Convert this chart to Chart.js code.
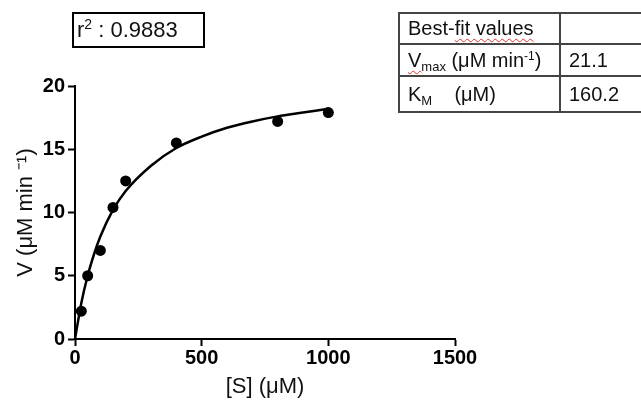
<!DOCTYPE html>
<html>
<head>
<meta charset="utf-8">
<script src="https://cdn.jsdelivr.net/npm/chart.js@4"></script>
<style>
  body { margin: 0; background: #fff; }
  #wrap { position: relative; width: 641px; height: 401px; overflow: hidden; font-family: "Liberation Sans", Arial, sans-serif; }
  #canvasGrafico { position: absolute; left: 0; top: 0; }
  #r2 { position: absolute; left: 72px; top: 12px; width: 133px; height: 36px; box-sizing: border-box;
        border: 2px solid #000; font-size: 22px; line-height: 32px; padding-left: 3px; color: #111; }
  #r2 sup { font-size: 14px; vertical-align: 8px; line-height: 0; }
  #tabla { position: absolute; left: 398px; top: 12px; width: 281px; table-layout: fixed;
           border-collapse: collapse; font-size: 20px; color: #111; }
  #tabla td { border: 2px solid #444; padding: 0 0 0 8px; white-space: nowrap; overflow: hidden; }
  #tabla sub { font-size: 13px; vertical-align: -4px; line-height: 0; }
  #tabla sup { font-size: 12px; vertical-align: 7px; line-height: 0; }
  .sq { text-decoration: underline wavy #e03030; text-decoration-thickness: 1px; text-underline-offset: 3px; }
</style>
</head>
<body>
<div id="wrap">
  <canvas id="canvasGrafico" width="641" height="401"></canvas>
  <div id="r2">r<sup>2</sup> : 0.9883</div>
  <table id="tabla">
    <colgroup><col style="width:161px"><col style="width:120px"></colgroup>
    <tr style="height:31px"><td>Best-<span class="sq">fit values</span></td><td></td></tr>
    <tr style="height:32px"><td><span class="sq">V<sub>max</sub></span> (μM min<sup>-1</sup>)</td><td>21.1</td></tr>
    <tr style="height:36px"><td>K<sub>M</sub>&nbsp;&nbsp;&nbsp; (μM)</td><td>160.2</td></tr>
  </table>
</div>
<script>
// datos medidos
const sustrato = [25, 50, 100, 150, 200, 400, 800, 1000];
const velocidad = [2.2, 5.0, 7.0, 10.4, 12.5, 15.5, 17.2, 17.9];

// curva ajustada
const curvaX = [0, 25, 50, 75, 100, 150, 200, 300, 400, 500, 600, 700, 800, 900, 1000];
const curvaY = [0, 2.85, 5.0, 6.7, 8.1, 10.2, 11.7, 13.7, 15.1, 16.0, 16.7, 17.2, 17.6, 17.9, 18.2];

const ticksX = [0, 500, 1000, 1500];
const ticksY = [0, 5, 10, 15, 20];

const puntos = sustrato.map((s, i) => ({ x: s, y: velocidad[i] }));
const curva = curvaX.map((s, i) => ({ x: s, y: curvaY[i] }));

const fuenteTicks = { family: '"Liberation Sans", Arial, sans-serif', size: 20, weight: 'bold' };
const fuenteTitulo = { family: '"Liberation Sans", Arial, sans-serif', size: 22 };

const ctx = document.getElementById('canvasGrafico').getContext('2d');
new Chart(ctx, {
    type: 'scatter',
    data: {
        datasets: [
            {
                label: 'datos',
                data: puntos,
                pointRadius: 5.5,
                pointBackgroundColor: '#000',
                pointBorderColor: '#000',
                pointBorderWidth: 0,
                clip: false
            },
            {
                label: 'ajuste',
                data: curva,
                showLine: true,
                borderColor: '#000',
                borderWidth: 2.5,
                pointRadius: 0,
                cubicInterpolationMode: 'monotone',
                clip: false
            }
        ]
    },
    options: {
        responsive: false,
        animation: false,
        layout: { padding: { top: 86, right: 186, left: 0, bottom: 0 } },
        plugins: { legend: { display: false }, tooltip: { enabled: false } },
        scales: {
            x: {
                type: 'linear',
                min: 0,
                max: 1500,
                afterBuildTicks: s => { s.ticks = ticksX.map(v => ({ value: v })); },
                afterFit: s => { s.height = 62; },
                ticks: { font: fuenteTicks, color: '#000', padding: 0, maxRotation: 0, callback: v => String(v) },
                grid: { drawOnChartArea: false, tickLength: 7, tickWidth: 2, tickColor: '#000' },
                border: { color: '#000', width: 2 },
                title: { display: true, text: '[S] (μM)', font: fuenteTitulo, color: '#111', padding: { top: 0, bottom: 1 } }
            },
            y: {
                type: 'linear',
                min: 0,
                max: 20,
                afterBuildTicks: s => { s.ticks = ticksY.map(v => ({ value: v })); },
                afterFit: s => { s.width = 75; },
                ticks: { font: fuenteTicks, color: '#000', padding: 3, callback: v => String(v) },
                grid: { drawOnChartArea: false, tickLength: 7, tickWidth: 2, tickColor: '#000' },
                border: { color: '#000', width: 2 },
                title: { display: true, text: 'V (μM min ⁻¹)', font: fuenteTitulo, color: '#111', padding: { top: 13, bottom: 0 } }
            }
        }
    }
});
</script>
</body>
</html>
